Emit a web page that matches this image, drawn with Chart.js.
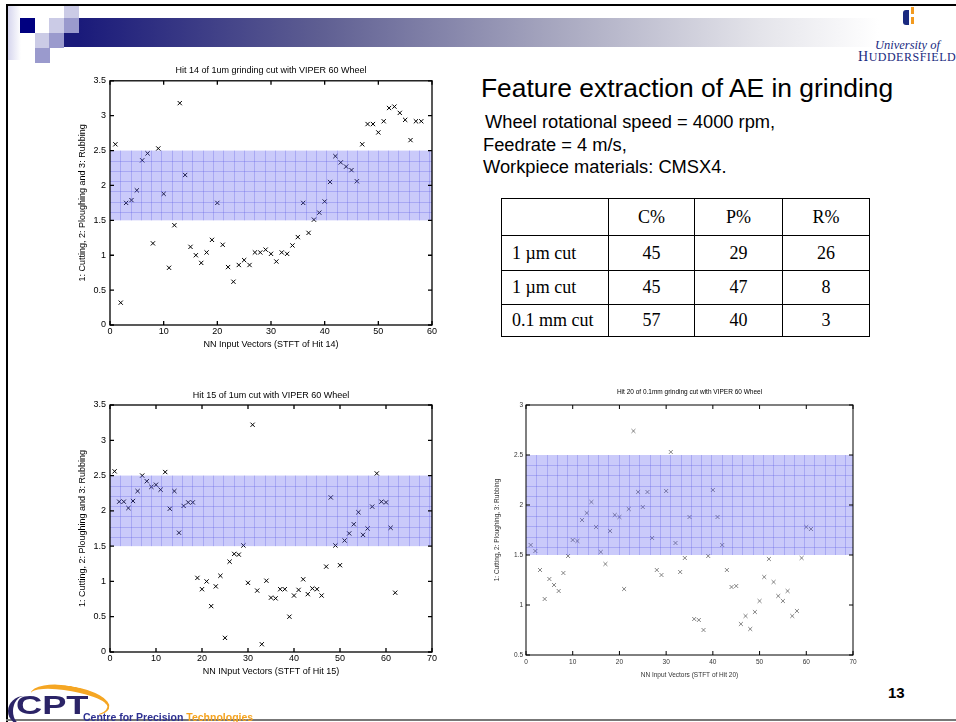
<!DOCTYPE html>
<html>
<head>
<meta charset="utf-8">
<script src="https://cdn.jsdelivr.net/npm/chart.js@4.4.1/dist/chart.umd.min.js"></script>
<style>
  body { margin: 0; width: 956px; height: 722px; position: relative; overflow: hidden; background: #fff;
         font-family: "Liberation Sans", Arial, sans-serif; }
  .abs { position: absolute; }
  .sq { position: absolute; width: 15px; height: 15px; }
  .txt { position: absolute; white-space: nowrap; line-height: 1; color: #000; }
  table.res { border-collapse: collapse; table-layout: fixed; font-family: "Liberation Serif", "Times New Roman", serif; font-size: 18px; }
  table.res td { border: 1.5px solid #000; padding: 0; text-align: center; }
  table.res td.lab { text-align: left; padding-left: 10px; }
</style>
</head>
<body>
<!-- slide frame -->
<div class="abs" style="left:6px;top:4px;width:950px;height:2px;background:#000"></div>
<div class="abs" style="left:6px;top:4px;width:2px;height:718px;background:#000"></div>
<div class="abs" style="left:6px;top:719px;width:950px;height:2px;background:#777"></div>

<!-- header decoration -->
<div class="abs" style="left:8px;top:6px;width:13px;height:54px;background:linear-gradient(to right,#d6d6ee,#fff)"></div>
<div class="sq" style="left:20px;top:18px;background:#000080"></div>
<div class="sq" style="left:49px;top:18px;background:#cbcbe6"></div>
<div class="sq" style="left:64px;top:6px;background:#cbcbe6;height:12px"></div>
<div class="sq" style="left:64px;top:18px;background:#9a9acd"></div>
<div class="sq" style="left:35px;top:33px;background:#cbcbe6"></div>
<div class="sq" style="left:49px;top:33px;background:#9a9acd"></div>
<div class="sq" style="left:35px;top:48px;background:#9a9acd"></div>
<div class="abs" style="left:64px;top:33px;width:15px;height:14px;background:#1a1a7a"></div>
<div class="abs" style="left:79px;top:18px;width:800px;height:29px;background:linear-gradient(to right,#1a1a7a 0%,#5e5e92 30%,#a8a8c0 60%,#e4e4ea 85%,#fff 100%)"></div>

<!-- university logo -->
<div class="abs" style="left:903px;top:10px;width:6px;height:15px;background:#1a2a80;border-radius:3px 0 0 3px"></div>
<div class="abs" style="left:911px;top:7px;width:3px;height:7px;background:#f29a1f"></div>
<div class="abs" style="left:911px;top:17px;width:3px;height:7px;background:#f29a1f"></div>
<div class="txt" style="left:875px;top:38px;font:italic 12.5px 'Liberation Serif',serif;color:#1a2a80">University of</div>
<div class="txt" style="left:858px;top:49px;font:14px 'Liberation Serif',serif;color:#1a2a80;letter-spacing:0.5px">H<span style="font-size:12px">UDDERSFIELD</span></div>

<!-- right text -->
<div class="txt" style="left:481px;top:75px;font-size:26.4px">Feature extraction of AE in grinding</div>
<div class="txt" style="left:485px;top:113px;font-size:18.3px">Wheel rotational speed = 4000 rpm,</div>
<div class="txt" style="left:483px;top:136px;font-size:18.3px">Feedrate = 4 m/s,</div>
<div class="txt" style="left:483px;top:158px;font-size:18.3px">Workpiece materials: CMSX4.</div>

<div class="abs" style="left:501px;top:198px">
  <table class="res" id="resTable">
    <colgroup><col style="width:107px"><col style="width:86px"><col style="width:88px"><col style="width:87px"></colgroup>
  </table>
</div>

<!-- charts -->
<canvas id="c14" class="abs" style="left:60px;top:58px" width="390" height="302"></canvas>
<canvas id="c15" class="abs" style="left:60px;top:382px" width="390" height="300"></canvas>
<canvas id="c20" class="abs" style="left:480px;top:385px" width="390" height="300"></canvas>

<!-- footer -->
<div class="txt" style="left:888px;top:685px;font-weight:bold;font-size:15px">13</div>
<div class="abs" style="left:30px;top:686px;width:78px;height:24px;border-top:5px solid #f5a623;border-right:2px solid #f5a623;border-radius:50%;transform:rotate(10deg)"></div>
<div class="abs" style="left:8px;top:696px;width:28px;height:30px;border-left:5px solid #2b2467;border-radius:50%"></div>
<div class="txt" style="left:16px;top:691px;font:bold 25px 'Liberation Sans',Arial,sans-serif;color:#2b2467;transform:scaleX(1.45);transform-origin:left top">CPT</div>
<div class="txt" style="left:83px;top:711px;font:bold 10.5px 'Liberation Sans',Arial,sans-serif;color:#2e3192">Centre for Precision <span style="color:#f5a31f">Technologies</span></div>

<script>
// ---- table data ----
const tableHeader = ['', 'C%', 'P%', 'R%'];
const tableRows = ['1 \u00b5m cut', '1 \u00b5m cut', '0.1 mm cut'];
const cPercent = [45, 45, 57];
const pPercent = [29, 47, 40];
const rPercent = [26, 8, 3];

// ---- chart data (class value per NN input vector, vectors numbered from 1) ----
const hit14Values = [2.59, 0.32, 1.75, 1.79, 1.93, 2.36, 2.46, 1.17, 2.53, 1.88, 0.82, 1.43, 3.18, 2.15, 1.12, 1.00, 0.89, 1.04, 1.22, 1.75,
  1.15, 0.83, 0.62, 0.86, 0.93, 0.86, 1.04, 1.04, 1.08, 1.02, 0.91, 1.04, 1.02, 1.14, 1.26, 1.75, 1.32, 1.51, 1.61, 1.77,
  2.05, 2.42, 2.33, 2.27, 2.22, 2.06, 2.59, 2.88, 2.88, 2.76, 2.92, 3.11, 3.13, 3.04, 2.94, 2.65, 2.92, 2.92];
const hit15Values = [2.56, 2.13, 2.13, 2.04, 2.14, 2.28, 2.50, 2.42, 2.34, 2.37, 2.30, 2.55, 2.03, 2.28, 1.69, 2.07, 2.12, 2.12, 1.05, 0.89,
  1.00, 0.65, 0.93, 1.08, 0.20, 1.28, 1.39, 1.38, 1.51, 0.98, 3.22, 0.87, 0.11, 1.01, 0.77, 0.76, 0.89, 0.89, 0.50, 0.80,
  0.88, 1.03, 0.82, 0.90, 0.89, 0.80, 1.21, 2.19, 1.51, 1.23, 1.58, 1.68, 1.81, 1.98, 1.66, 1.75, 2.06, 2.53, 2.13, 2.12,
  1.76, 0.84];
const hit20Values = [1.60, 1.54, 1.35, 1.06, 1.26, 1.20, 1.14, 1.32, 1.49, 1.65, 1.64, 1.85, 1.92, 2.03, 1.78, 1.53, 1.41, 1.74, 1.90, 1.88,
  1.16, 1.96, 2.74, 2.13, 1.98, 2.13, 1.67, 1.35, 1.30, 2.14, 2.53, 1.62, 1.33, 1.47, 1.88, 0.86, 0.85, 0.75, 1.49, 2.15,
  1.88, 1.60, 1.35, 1.18, 1.19, 0.81, 0.89, 0.76, 0.93, 1.04, 1.28, 1.46, 1.23, 1.09, 1.04, 1.14, 0.89, 0.94, 1.47, 1.78,
  1.76];

// ploughing band (class 2 region)
const ploughBand = [1.5, 2.5];

// ---- tick labels ----
const hit14XTicks = [0, 10, 20, 30, 40, 50, 60];
const hit15XTicks = [0, 10, 20, 30, 40, 50, 60, 70];
const hit20XTicks = [0, 10, 20, 30, 40, 50, 60, 70];
const yTicksFull = [0, 0.5, 1, 1.5, 2, 2.5, 3, 3.5];
const yTicksHit20 = [0.5, 1, 1.5, 2, 2.5, 3];

// build table
const tbl = document.getElementById('resTable');
let html = '<tr style="height:37px">' + tableHeader.map(h => '<td>' + h + '</td>').join('') + '</tr>';
const rowHeights = [35, 34, 32];
tableRows.forEach((r, i) => {
  html += '<tr style="height:' + rowHeights[i] + 'px"><td class="lab">' + r + '</td><td>' + cPercent[i] + '</td><td>' +
    pPercent[i] + '</td><td>' + rPercent[i] + '</td></tr>';
});
tbl.insertAdjacentHTML('beforeend', html);

// MATLAB-like box, inward ticks and hatched band
const matlabPlot = {
  id: 'matlabPlot',
  afterDatasetsDraw(chart, args, opts) {
    const { ctx, chartArea: a, scales: { x, y } } = chart;
    const top = y.getPixelForValue(opts.band[1]);
    const bottom = y.getPixelForValue(opts.band[0]);
    ctx.save();
    ctx.fillStyle = 'rgba(90, 90, 240, 0.32)';
    ctx.fillRect(a.left, top, a.width, bottom - top);
    ctx.strokeStyle = 'rgba(90, 90, 230, 0.3)';
    ctx.lineWidth = 1;
    ctx.beginPath();
    for (let yy = top + 10.2; yy < bottom - 2; yy += 10.2) {
      ctx.moveTo(a.left, Math.round(yy) + 0.5);
      ctx.lineTo(a.right, Math.round(yy) + 0.5);
    }
    for (let xx = a.left + 10.3; xx < a.right - 2; xx += 10.3) {
      ctx.moveTo(Math.round(xx) + 0.5, top);
      ctx.lineTo(Math.round(xx) + 0.5, bottom);
    }
    ctx.stroke();
    ctx.restore();
  },
  afterDraw(chart, args, opts) {
    const { ctx, chartArea: a, scales: { x, y } } = chart;
    ctx.save();
    ctx.strokeStyle = '#000';
    ctx.lineWidth = opts.lineWidth;
    ctx.strokeRect(a.left, a.top, a.width, a.height);
    ctx.beginPath();
    x.ticks.forEach(t => {
      const px = x.getPixelForValue(t.value);
      ctx.moveTo(px, a.bottom); ctx.lineTo(px, a.bottom - 4);
      ctx.moveTo(px, a.top); ctx.lineTo(px, a.top + 4);
    });
    y.ticks.forEach(t => {
      const py = y.getPixelForValue(t.value);
      ctx.moveTo(a.left, py); ctx.lineTo(a.left + 4, py);
      ctx.moveTo(a.right, py); ctx.lineTo(a.right - 4, py);
    });
    ctx.stroke();
    ctx.restore();
  }
};

function makeScatter(id, cfg) {
  const points = cfg.values.map((v, i) => ({ x: i + 1, y: v }));
  new Chart(document.getElementById(id), {
    type: 'scatter',
    data: {
      datasets: [{
        data: points,
        pointStyle: 'crossRot',
        pointRadius: cfg.pointRadius,
        borderColor: cfg.markColor,
        borderWidth: cfg.markWidth,
        backgroundColor: cfg.markColor
      }]
    },
    plugins: [matlabPlot],
    options: {
      responsive: false,
      animation: false,
      devicePixelRatio: 1,
      layout: { padding: { left: 0, right: cfg.padRight, top: 0, bottom: 0 } },
      plugins: {
        legend: { display: false },
        tooltip: { enabled: false },
        title: {
          display: true,
          text: cfg.title,
          fullSize: false,
          color: '#000',
          font: { size: cfg.font, weight: 'normal' },
          padding: cfg.titlePad
        },
        matlabPlot: { band: ploughBand, lineWidth: cfg.boxWidth }
      },
      scales: {
        x: {
          type: 'linear',
          min: cfg.xTicks[0],
          max: cfg.xTicks[cfg.xTicks.length - 1],
          afterBuildTicks: s => { s.ticks = cfg.xTicks.map(v => ({ value: v })); },
          afterFit: s => { s.height = cfg.xHeight; },
          grid: { display: false, drawTicks: false },
          border: { display: false },
          ticks: { color: cfg.tickColor, font: { size: cfg.font }, padding: cfg.xTickPad, maxRotation: 0 },
          title: { display: true, text: cfg.xTitle, color: cfg.tickColor, font: { size: cfg.font }, padding: { top: 0, bottom: cfg.xTitlePad } }
        },
        y: {
          type: 'linear',
          min: cfg.yTicks[0],
          max: cfg.yTicks[cfg.yTicks.length - 1],
          afterBuildTicks: s => { s.ticks = cfg.yTicks.map(v => ({ value: v })); },
          afterFit: s => { s.width = cfg.yWidth; },
          grid: { display: false, drawTicks: false },
          border: { display: false },
          ticks: { color: cfg.tickColor, font: { size: cfg.font }, padding: cfg.yTickPad, callback: v => String(v) },
          title: { display: true, text: cfg.yTitle, color: cfg.tickColor, font: { size: cfg.font }, padding: { top: cfg.yTitlePad, bottom: 0 } }
        }
      }
    }
  });
}

Chart.defaults.font.family = '"Liberation Sans", Arial, sans-serif';

makeScatter('c14', {
  values: hit14Values, xTicks: hit14XTicks, yTicks: yTicksFull,
  title: 'Hit 14 of 1um grinding cut with VIPER 60 Wheel',
  xTitle: 'NN Input Vectors (STFT of Hit 14)',
  yTitle: '1: Cutting, 2: Ploughing and 3: Rubbing',
  font: 9, titlePad: { top: 7, bottom: 5 }, padRight: 18, xHeight: 35, yWidth: 50,
  xTickPad: 1, yTickPad: 4, xTitlePad: 9.6, yTitlePad: 17.6,
  tickColor: '#000', markColor: '#000', markWidth: 1, pointRadius: 3, boxWidth: 1.3
});

makeScatter('c15', {
  values: hit15Values, xTicks: hit15XTicks, yTicks: yTicksFull,
  title: 'Hit 15 of 1um cut with VIPER 60 Wheel',
  xTitle: 'NN INput Vectors (STFT of Hit 15)',
  yTitle: '1: Cutting, 2: Ploughing and 3: Rubbing',
  font: 9, titlePad: { top: 8.6, bottom: 3.6 }, padRight: 18, xHeight: 30, yWidth: 50,
  xTickPad: 1, yTickPad: 4, xTitlePad: 4.6, yTitlePad: 17.6,
  tickColor: '#000', markColor: '#000', markWidth: 1, pointRadius: 3, boxWidth: 1.3
});

makeScatter('c20', {
  values: hit20Values, xTicks: hit20XTicks, yTicks: yTicksHit20,
  title: 'Hit 20 of 0.1mm grinding cut with VIPER 60 Wheel',
  xTitle: 'NN Input Vectors (STFT of Hit 20)',
  yTitle: '1: Cutting, 2: Ploughing, 3: Rubbing',
  font: 6.5, titlePad: { top: 3.6, bottom: 8.6 }, padRight: 17, xHeight: 30, yWidth: 46,
  xTickPad: 3, yTickPad: 3, xTitlePad: 5.6, yTitlePad: 13.1,
  tickColor: '#333', markColor: '#666', markWidth: 0.8, pointRadius: 2.8, boxWidth: 1
});
</script>
</body>
</html>
